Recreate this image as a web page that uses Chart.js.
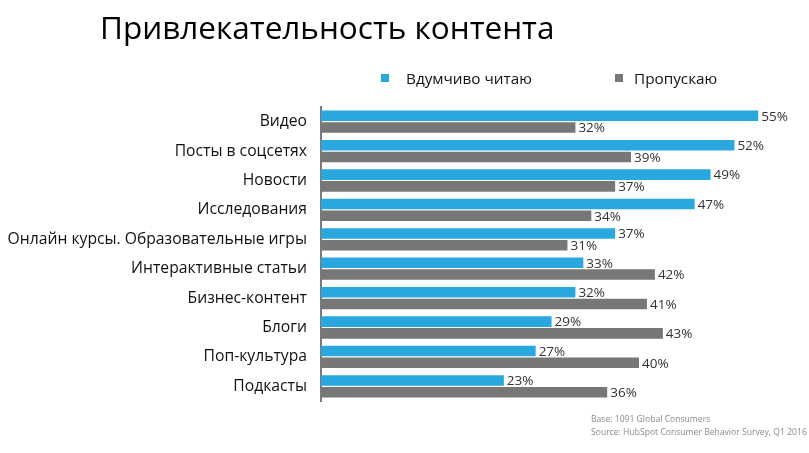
<!DOCTYPE html>
<html>
<head>
<meta charset="utf-8">
<script src="https://cdn.jsdelivr.net/npm/chart.js@4.4.1/dist/chart.umd.min.js"></script>
<style>
  html, body { margin: 0; padding: 0; background: #fff; }
  #wrap { position: relative; width: 809px; height: 453px; overflow: hidden; }
  #c { position: absolute; left: 0; top: 0; }
  #title { position: absolute; left: 100px; top: 5px; font-family: "Open Sans", sans-serif; font-size: 31.5px; color: #000; white-space: nowrap; }
  #legend { position: absolute; top: 66px; left: 0; font-family: "Open Sans", sans-serif; font-size: 15.3px; color: #111; white-space: nowrap; }
  .li { position: absolute; top: 0; display: flex; align-items: center; height: 24px; }
  .sw { width: 8px; height: 8px; }
  #foot { position: absolute; left: 591px; top: 413px; font-family: "Open Sans", sans-serif; font-size: 8.6px; line-height: 13px; color: #8a8a8a; white-space: nowrap; }
</style>
</head>
<body>
<div id="wrap">
  <canvas id="c" width="809" height="453"></canvas>
  <div id="title"></div>
  <div id="legend"></div>
  <div id="foot"></div>
</div>
<script>
const titleText = "Привлекательность контента";
const categories = ["Видео", "Посты в соцсетях", "Новости", "Исследования", "Онлайн курсы. Образовательные игры", "Интерактивные статьи", "Бизнес-контент", "Блоги", "Поп-культура", "Подкасты"];
const seriesNames = ["Вдумчиво читаю", "Пропускаю"];
const readValues = [55, 52, 49, 47, 37, 33, 32, 29, 27, 23];
const skipValues = [32, 39, 37, 34, 31, 42, 41, 43, 40, 36];
const footLines = ["Base: 1091 Global Consumers", "Source: HubSpot Consumer Behavior Survey, Q1 2016"];
const colors = ["#29a7df", "#777777"];

document.getElementById('title').textContent = titleText;
document.getElementById('foot').innerHTML = footLines.map(s => '<div>' + s + '</div>').join('');
const legendLefts = [381, 615];
const lg = document.getElementById('legend');
seriesNames.forEach((n, i) => {
  const d = document.createElement('div');
  d.className = 'li';
  d.style.left = legendLefts[i] + 'px';
  const sw = document.createElement('span');
  sw.className = 'sw';
  sw.style.background = colors[i];
  sw.style.marginRight = (i === 0 ? 17 : 11) + 'px';
  const t = document.createElement('span');
  t.textContent = n;
  d.appendChild(sw); d.appendChild(t);
  lg.appendChild(d);
});

const valueLabels = {
  id: 'valueLabels',
  afterDatasetsDraw(chart) {
    const ctx = chart.ctx;
    ctx.save();
    ctx.font = '13.5px "Open Sans", sans-serif';
    ctx.fillStyle = '#333';
    ctx.textBaseline = 'middle';
    ctx.textAlign = 'left';
    chart.data.datasets.forEach((ds, di) => {
      chart.getDatasetMeta(di).data.forEach((el, i) => {
        ctx.fillText(ds.data[i] + '%', el.x + 3, el.y + 1);
      });
    });
    ctx.restore();
  }
};

new Chart(document.getElementById('c'), {
  type: 'bar',
  data: {
    labels: categories,
    datasets: [
      { label: seriesNames[0], data: readValues, backgroundColor: colors[0], categoryPercentage: 0.8, barPercentage: 0.9 },
      { label: seriesNames[1], data: skipValues, backgroundColor: colors[1], categoryPercentage: 0.8, barPercentage: 0.9 }
    ]
  },
  options: {
    indexAxis: 'y',
    responsive: false,
    animation: false,
    layout: { padding: { left: 0, right: 11, top: 107, bottom: 52 } },
    plugins: { legend: { display: false }, title: { display: false }, tooltip: { enabled: false } },
    scales: {
      x: { min: 0, max: 60, display: false },
      y: {
        grid: { display: false, drawTicks: false },
        border: { display: true, color: '#7a7a7a', width: 2 },
        ticks: { color: '#111', font: { family: 'Open Sans', size: 15.7 }, padding: 14 },
        afterFit(scale) { scale.width = 321; }
      }
    }
  },
  plugins: [valueLabels]
});
</script>
</body>
</html>
